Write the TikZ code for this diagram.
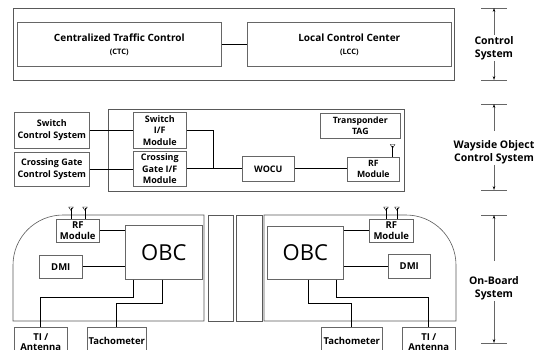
\documentclass[tikz,border=0pt]{standalone}
\usepackage{fontspec}
\setmainfont{Open Sans}
\usetikzlibrary{calc,arrows.meta}
\begin{document}
\begin{tikzpicture}[x=1pt,y=-1pt,
  box/.style={draw=black!60, line width=0.6pt, inner sep=1pt, align=center, anchor=north west, font=\bfseries\fontsize{9.5}{10.5}\selectfont},
  bigbox/.style={box, font=\bfseries\fontsize{10}{12}\selectfont},
  midbox/.style={box, font=\bfseries\fontsize{9}{11.5}\selectfont},
  wbox/.style={box, font=\bfseries\fontsize{8.7}{10.5}\selectfont},
  tibox/.style={box, font=\bfseries\fontsize{9.5}{10}\selectfont},
  obcbox/.style={box, font=\fontsize{22}{24}\selectfont},
  frame/.style={draw=black!65, line width=0.6pt},
  wire/.style={draw=black, line width=0.8pt},
  lbl/.style={align=center, inner sep=1pt, font=\bfseries\fontsize{10.5}{13}\selectfont},
  tick/.style={draw=black!60, line width=0.6pt},
  dimarrow/.style={draw=black!60, line width=0.6pt, -{Stealth[length=4pt,width=2.6pt,color=black]}},
  antenna/.pic={\draw[line width=0.5pt] (0,0) -- (0,-11);
                \draw[line width=0.4pt] (-2.3,-12) -- (2.3,-12) -- (0,-8.5) -- cycle;}
]
\useasboundingbox (0,0) rectangle (543,350);
\clip (0,0) rectangle (543,350);

% ---------------- Control system ----------------
\draw[frame] (13,8) rectangle (454,80);
\node[bigbox, minimum width=204pt, minimum height=44pt] (ctc) at (17,22)
  {Centralized Traffic Control\\[1pt]{\fontsize{7.5}{9}\selectfont (CTC)}};
\node[bigbox, minimum width=204pt, minimum height=44pt] (lcc) at (247,22)
  {Local Control Center\\[1pt]{\fontsize{7.5}{9}\selectfont (LCC)}};
\draw[wire] (ctc.east) -- (lcc.west);

\node[lbl] (cs) at (494,48) {Control\\System};
\coordinate (cst) at (494,8);
\coordinate (csb) at (494,80);
\draw[tick] ($(cst)+(-13,0)$) -- ++(26,0);
\draw[tick] ($(csb)+(-13,0)$) -- ++(26,0);
\draw[dimarrow] (cs.north) -- (cst);
\draw[dimarrow] (cs.south) -- (csb);

% ---------------- Wayside ----------------
\draw[frame] (108,109) rectangle (404,191);
\node[midbox, minimum width=75pt, minimum height=36pt] (scs) at (14,112) {Switch\\Control System};
\node[midbox, minimum width=75pt, minimum height=34pt] (cgcs) at (14,152) {Crossing Gate\\Control System};
\node[midbox, minimum width=53pt, minimum height=36pt] (sif) at (133,112) {Switch\\I/F\\Module};
\node[midbox, minimum width=53pt, minimum height=35pt] (cif) at (133,151) {Crossing\\Gate I/F\\Module};
\node[midbox, minimum width=52pt, minimum height=25pt] (wocu) at (242,156) {WOCU};
\node[wbox, minimum width=80pt, minimum height=25pt] (tag) at (320,113) {Transponder\\TAG};
\node[wbox, minimum width=52pt, minimum height=24pt] (wrf) at (347,156.5) {RF\\Module};
\coordinate (j) at (213,168.5);
\draw[wire] (scs.east) -- (scs.east -| sif.west);
\draw[wire] (cgcs.east) -- (cgcs.east -| cif.west);
\draw[wire] (sif.east) -| (j);
\draw[wire] (cif.east) -- (cif.east -| wocu.west);
\draw[wire] (wocu.east) -- (wocu.east -| wrf.west);
\pic at ($(wrf.north east)+(-7,0)$) {antenna};

\node[lbl] (ws) at (494,152) {Wayside Object\\Control System};
\coordinate (wst) at (494,104);
\coordinate (wsb) at (494,190);
\draw[tick] ($(wst)+(-13,0)$) -- ++(26,0);
\draw[tick] ($(wsb)+(-13,0)$) -- ++(26,0);
\draw[dimarrow] ($(ws.north)+(0,-8)$) -- (wst);
\draw[dimarrow] (ws.south) -- (wsb);

% ---------------- On-board ----------------
\draw[frame] (204,215) -- (63,215) .. controls (35.4,215) and (13,237.4) .. (13,265) -- (13,321) -- (204,321) -- cycle;
\draw[frame] (208,215) rectangle (233,321);
\draw[frame] (236,215) rectangle (262,321);
\draw[frame] (264,215) -- (406,215) .. controls (433.6,215) and (456,237.4) .. (456,265) -- (456,321) -- (264,321) -- cycle;

% car 1
\node[obcbox, minimum width=77pt, minimum height=54pt] (obc1) at (125,225) {OBC};
\node[box, minimum width=43pt, minimum height=23pt] (rf1) at (56,219) {RF\\Module};
\node[box, minimum width=43pt, minimum height=23pt] (dmi1) at (39,255) {DMI};
\node[tibox, minimum width=53pt, minimum height=29pt] (ti1) at (14,327) {TI /\\Antenna};
\node[box, minimum width=59pt, minimum height=28pt] (tach1) at (87,327) {Tachometer};
\draw[wire] (rf1.east) -- (rf1.east -| obc1.west);
\draw[wire] (dmi1.east) -- (dmi1.east -| obc1.west);
\draw[wire] ($(obc1.south west)+(8,0)$) -- ++(0,18) -| (ti1.north);
\draw[wire] ($(obc1.south west)+(37,0)$) -- ++(0,24) -| (tach1.north);
\pic at ($(rf1.north west)+(15,0)$) {antenna};
\pic at ($(rf1.north west)+(29,0)$) {antenna};

% car 2
\node[obcbox, minimum width=76pt, minimum height=53pt] (obc2) at (267,226) {OBC};
\node[box, minimum width=44pt, minimum height=23pt] (rf2) at (369,219) {RF\\Module};
\node[box, minimum width=42pt, minimum height=24pt] (dmi2) at (388,254) {DMI};
\node[box, minimum width=61pt, minimum height=28pt] (tach2) at (321,327) {Tachometer};
\node[tibox, minimum width=53pt, minimum height=29pt] (ti2) at (402,327) {TI /\\Antenna};
\draw[wire] (obc2.east |- rf2.west) -- (rf2.west);
\draw[wire] (obc2.east |- dmi2.west) -- (dmi2.west);
\draw[wire] ($(obc2.south west)+(41,0)$) -- ++(0,24) -| (tach2.north);
\draw[wire] ($(obc2.south west)+(69,0)$) -- ++(0,18) -| (ti2.north);
\pic at ($(rf2.north west)+(17,0)$) {antenna};
\pic at ($(rf2.north west)+(28,0)$) {antenna};

\node[lbl] (ob) at (494,288) {On-Board\\System};
\coordinate (obt) at (494,215);
\coordinate (obb) at (494,343);
\draw[tick] ($(obt)+(-13,0)$) -- ++(26,0);
\draw[tick] ($(obb)+(-13,0)$) -- ++(26,0);
\draw[dimarrow] ($(ob.north)+(0,-14)$) -- (obt);
\draw[dimarrow] (ob.south) -- (obb);
\end{tikzpicture}
\end{document}
